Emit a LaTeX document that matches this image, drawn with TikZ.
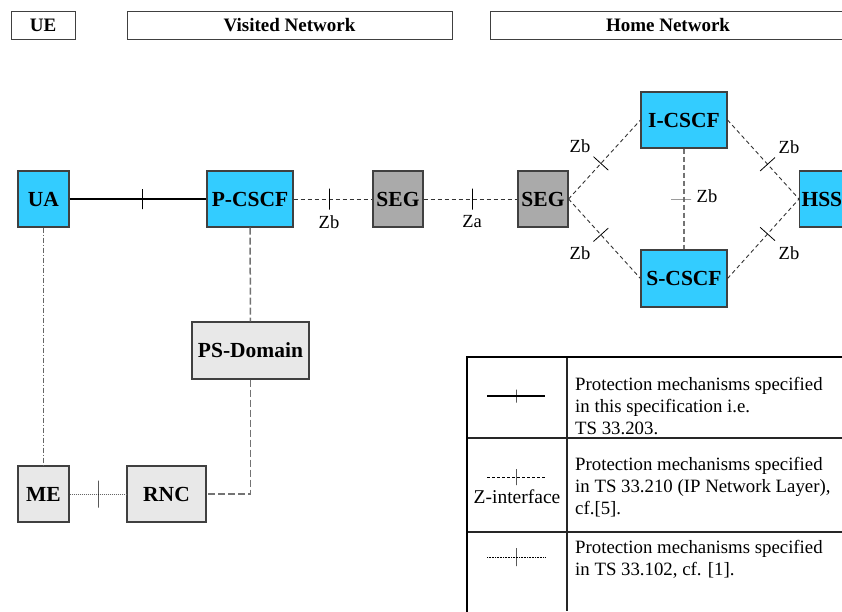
\documentclass[tikz,border=0pt]{standalone}
\usepackage{fontspec}
\setmainfont{Liberation Serif}
\usetikzlibrary{calc}
\definecolor{cyanbox}{RGB}{51,204,255}
\definecolor{segbox}{RGB}{170,170,170}
\definecolor{lightbox}{RGB}{232,232,232}
\definecolor{edgecol}{RGB}{64,64,64}
\begin{document}
\begin{tikzpicture}[x=1pt,y=-1pt,
  box/.style={draw=edgecol, line width=1.1pt, inner sep=0pt, font=\fontsize{21.5}{25}\selectfont\bfseries},
  cyanb/.style={box, fill=cyanbox},
  segb/.style={box, fill=segbox},
  greyb/.style={box, fill=lightbox},
  header/.style={draw=edgecol, line width=1pt, fill=white, inner sep=0pt, minimum height=28pt, font=\fontsize{19}{22}\selectfont\bfseries},
  tickmark/.style={draw=black, solid, line width=0.8pt, minimum width=0pt, minimum height=#1, inner sep=0pt, outer sep=0pt, sloped, shape=rectangle},
  tickmark/.default=20pt,
  lbl/.style={inner sep=0pt, font=\fontsize{18.5}{21}\selectfont},
  solidlink/.style={draw=black, line width=1.6pt},
  zlink/.style={draw=black!80, line width=0.9pt, dash pattern=on 4pt off 3pt},
  greydash/.style={draw=black!55, line width=1.5pt, dash pattern=on 7pt off 3pt},
  dashdotlink/.style={draw=black!60, line width=0.8pt, dash pattern=on 5pt off 2pt on 1pt off 2pt},
  dotlink/.style={draw=black!60, line width=0.8pt, dash pattern=on 1pt off 1pt},
  legtext/.style={anchor=north west, inner sep=0pt, align=left, font=\fontsize{18.8}{22}\selectfont}
]
\useasboundingbox (0,0) rectangle (842,611);

% headers
\node[header, minimum width=64pt] (hUE) at (43,25) {UE};
\node[header, minimum width=325pt] (hVN) at (289.5,25) {Visited Network};
\node[header, minimum width=356pt] (hHN) at (668,25) {Home Network};

% nodes
\node[cyanb, minimum width=51pt, minimum height=56pt] (UA) at (43.5,199) {UA};
\node[cyanb, minimum width=86pt, minimum height=56pt] (PCSCF) at (250,199) {P-CSCF};
\node[segb, minimum width=50pt, minimum height=56pt] (SEGa) at (398,199) {SEG};
\node[segb, minimum width=50pt, minimum height=56pt] (SEGb) at (543,199) {SEG};
\node[cyanb, minimum width=86pt, minimum height=56pt] (ICSCF) at (684,120) {I-CSCF};
\node[cyanb, minimum width=86pt, minimum height=57pt] (SCSCF) at (684,278.5) {S-CSCF};
\node[cyanb, minimum height=56pt, anchor=west, text width=56pt, inner xsep=2pt, align=left] (HSS) at (799,199) {HSS};
\node[greyb, minimum width=117pt, minimum height=57pt] (PSD) at (250.5,350.5) {PS-Domain};
\node[greyb, minimum width=51pt, minimum height=56pt] (ME) at (43.5,494) {ME};
\node[greyb, minimum width=79pt, minimum height=56pt] (RNC) at (166.5,494) {RNC};

% connectors
\draw[solidlink] (UA) -- node[tickmark, pos=0.53]{} (PCSCF);
\draw[zlink] (PCSCF) -- node[tickmark=21pt, pos=0.45]{} (SEGa);
\draw[zlink] (SEGa) -- node[tickmark=21pt, pos=0.52]{} (SEGb);
\draw[zlink] (SEGb.east) -- node[tickmark, pos=0.45]{} (ICSCF.west);
\draw[zlink] (SEGb.east) -- node[tickmark, pos=0.45]{} (SCSCF.west);
\draw[zlink] (ICSCF.east) -- node[tickmark, pos=0.56]{} (HSS.west);
\draw[zlink] (SCSCF.east) -- node[tickmark, pos=0.56]{} (HSS.west);
\draw[greydash, line width=1.2pt, dash pattern=on 5pt off 3pt] (ICSCF) -- node[tickmark, draw=black!60, pos=0.5, xshift=0pt, yshift=-3pt]{} (SCSCF);
\draw[greydash] (PCSCF) -- (PSD);
\draw[greydash] (PSD.south) |- (RNC.east);
\draw[dashdotlink] (UA) -- (ME);
\draw[dotlink] (ME) -- node[tickmark=27pt, pos=0.5]{} (RNC);

% Z labels
\node[lbl] (zb1) at (329,222) {Zb};
\node[lbl] (za1) at (472,222) {Za};
\node[lbl] (zb2) at (580,146) {Zb};
\node[lbl] (zb3) at (789,147) {Zb};
\node[lbl] (zb4) at (580,253) {Zb};
\node[lbl] (zb5) at (789,253) {Zb};
\node[lbl] (zb6) at (707,196) {Zb};

% legend table
\draw[line width=1.4pt, draw=black!85] (567,357) -- (567,611);
\draw[line width=1.4pt, draw=black!85] (467,438) -- (850,438);
\draw[line width=1.4pt, draw=black!85] (467,532) -- (850,532);
\draw[line width=2.4pt] (467,612) -- (467,357) -- (850,357);

\coordinate (l1a) at (487,396);
\coordinate (l1b) at (545,396);
\draw[line width=1.5pt] (l1a) -- node[tickmark=13pt, pos=0.5]{} (l1b);
\coordinate (l2a) at (487,477);
\coordinate (l2b) at (545,477);
\draw[line width=0.6pt, dash pattern=on 3pt off 2pt] (l2a) -- node[tickmark=16pt, pos=0.5, line width=0.6pt]{} (l2b);
\node[inner sep=0pt, font=\fontsize{19.5}{22}\selectfont] (zif) at (517,497) {Z-interface};
\coordinate (l3a) at (487,557);
\coordinate (l3b) at (545,557);
\draw[line width=0.6pt, dash pattern=on 1pt off 0.6pt] (l3a) -- node[tickmark=18pt, pos=0.5, line width=0.6pt]{} (l3b);

\node[legtext] (t1) at (575,377) {Protection mechanisms specified\\in this specification i.e.\\TS 33.203.};
\node[legtext] (t2) at (575,457) {Protection mechanisms specified\\in TS 33.210 (IP Network Layer),\\cf.[5].};
\node[legtext] (t3) at (575,540) {Protection mechanisms specified\\in TS 33.102, cf. [1].};
\end{tikzpicture}
\end{document}
